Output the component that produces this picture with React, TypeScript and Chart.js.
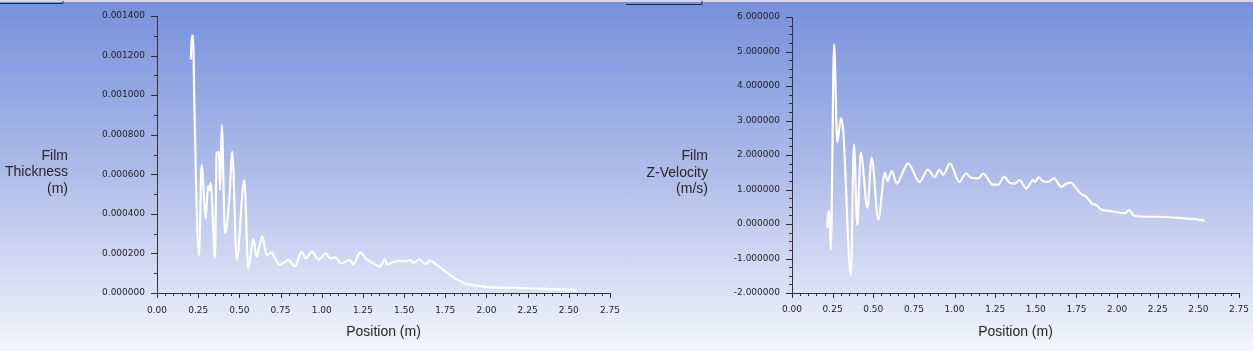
import React, { useEffect, useRef } from 'react';
import { Chart, registerables } from 'chart.js';

Chart.register(...registerables);

// ---- data ----
const thicknessPositions = [
  0.206, 0.211, 0.220, 0.226, 0.255, 0.271, 0.296, 0.31, 0.318, 0.326, 0.352, 0.362, 0.376, 0.383,
  0.393, 0.413, 0.439, 0.457, 0.484, 0.530, 0.554, 0.585, 0.605, 0.639, 0.666, 0.696, 0.716, 0.743,
  0.777, 0.797, 0.838, 0.879, 0.903, 0.939, 0.980, 1.026, 1.050, 1.081, 1.121, 1.168, 1.192, 1.233,
  1.273, 1.313, 1.354, 1.384, 1.398, 1.435, 1.516, 1.536, 1.557, 1.593, 1.627, 1.658, 1.698, 1.759,
  1.820, 1.881, 1.961, 2.018, 2.25, 2.5, 2.548,
];
const thicknessValues = [
  0.00118, 0.0013, 0.0013, 0.00099, 0.00019, 0.000647, 0.000375, 0.00054, 0.00052, 0.000555, 0.000175,
  0.000706, 0.000714, 0.00052, 0.00085, 0.000302, 0.00047, 0.000714, 0.000167, 0.000571, 0.000125,
  0.000271, 0.000184, 0.000288, 0.000192, 0.000204, 0.000175, 0.000142, 0.000158, 0.000167, 0.000136,
  0.000209, 0.000175, 0.000209, 0.00017, 0.0002, 0.000175, 0.00018, 0.00015, 0.000167, 0.000145,
  0.000204, 0.00017, 0.00015, 0.000133, 0.00017, 0.000142, 0.000158, 0.000162, 0.000167, 0.000153,
  0.00017, 0.000147, 0.000163, 0.000142, 0.000103, 0.000069, 0.000045, 0.000035, 0.00003, 0.000024,
  0.000017, 0.000016,
];

const velocityPositions = [
  0.217, 0.223, 0.229, 0.239, 0.259, 0.279, 0.301, 0.315, 0.362, 0.381, 0.402, 0.423, 0.464, 0.490,
  0.531, 0.572, 0.587, 0.614, 0.645, 0.675, 0.714, 0.784, 0.836, 0.878, 0.907, 0.930, 0.972, 1.029,
  1.070, 1.104, 1.145, 1.176, 1.237, 1.268, 1.305, 1.34, 1.37, 1.40, 1.442, 1.483, 1.495, 1.517,
  1.545, 1.575, 1.612, 1.657, 1.688, 1.714, 1.749, 1.776, 1.811, 1.852, 1.872, 1.899, 1.965, 2.047,
  2.073, 2.104, 2.231, 2.374, 2.477, 2.539,
];
const velocityValues = [
  -0.12, 0.37, 0.37, -0.75, 5.21, 2.37, 3.07, 2.71, -1.49, 2.30, -0.03, 2.07, 0.47, 1.92, 0.135,
  1.49, 1.24, 1.53, 1.17, 1.43, 1.76, 1.22, 1.58, 1.36, 1.57, 1.43, 1.75, 1.22, 1.46, 1.34, 1.32,
  1.46, 1.14, 1.14, 1.37, 1.19, 1.17, 1.27, 1.03, 1.27, 1.22, 1.35, 1.24, 1.22, 1.32, 1.08, 1.17,
  1.20, 1.03, 0.88, 0.79, 0.57, 0.55, 0.43, 0.37, 0.31, 0.40, 0.24, 0.21, 0.18, 0.14, 0.10,
];

const positionRange = [0, 2.75];
const thicknessRange = [0, 0.0014];
const velocityRange = [-2, 6];

const xAxisTitle = 'Position (m)';
const thicknessTitle = ['Film', 'Thickness', '(m)'];
const velocityTitle = ['Film', 'Z-Velocity', '(m/s)'];

type PanelProps = {
  xs: number[];
  ys: number[];
  yRange: number[];
  yStep: number;
  yMinorPerMajor: number;
  yTitle: string[];
  width: number;
  leftWidth: number;
  topPad: number;
  rightPad: number;
  xLabelPad: number;
  titleOffset: number;
  frameEnd: number;
  frameY: number;
};

function Panel(props: PanelProps) {
  const ref = useRef<HTMLCanvasElement | null>(null);

  useEffect(() => {
    const canvas = ref.current;
    if (!canvas) return;

    const background = {
      id: 'bgDecor',
      beforeDraw(chart: any) {
        const { ctx, width, height } = chart;
        ctx.save();
        const g = ctx.createLinearGradient(0, 0, 0, height);
        g.addColorStop(0, '#7690dc');
        g.addColorStop(0.5, '#b0bde9');
        g.addColorStop(1, '#f3f5fc');
        ctx.fillStyle = g;
        ctx.fillRect(0, 0, width, height);
        ctx.fillStyle = '#d3d7e4';
        ctx.fillRect(0, 0, width, 2);
        ctx.strokeStyle = '#1d2650';
        ctx.lineWidth = 1;
        ctx.beginPath();
        ctx.moveTo(0, props.frameY);
        ctx.lineTo(props.frameEnd, props.frameY);
        ctx.lineTo(props.frameEnd, 1);
        ctx.stroke();
        ctx.restore();
      },
    };

    const tickMarks = {
      id: 'tickMarks',
      afterDraw(chart: any) {
        const { ctx, chartArea } = chart;
        const xs = chart.scales.x;
        const ys = chart.scales.y;
        ctx.save();
        ctx.strokeStyle = '#2c2c2c';
        ctx.lineWidth = 1;
        ctx.beginPath();
        const xMinor = 0.05;
        const nx = Math.round((xs.max - xs.min) / xMinor);
        for (let i = 0; i <= nx; i++) {
          const px = Math.round(xs.getPixelForValue(xs.min + i * xMinor)) + 0.5;
          const len = i % 5 === 0 ? 5 : 3;
          ctx.moveTo(px, chartArea.bottom);
          ctx.lineTo(px, chartArea.bottom + len);
        }
        const yMinor = props.yStep / props.yMinorPerMajor;
        const ny = Math.round((ys.max - ys.min) / yMinor);
        for (let i = 0; i <= ny; i++) {
          const py = Math.round(ys.getPixelForValue(ys.min + i * yMinor)) + 0.5;
          const len = i % props.yMinorPerMajor === 0 ? 6 : 3;
          ctx.moveTo(chartArea.left, py);
          ctx.lineTo(chartArea.left - len, py);
        }
        ctx.stroke();

        // horizontal y-axis title
        ctx.fillStyle = '#262626';
        ctx.font = '14px "Liberation Sans", Arial, sans-serif';
        ctx.textAlign = 'right';
        ctx.textBaseline = 'middle';
        const cy = (chartArea.top + chartArea.bottom) / 2;
        props.yTitle.forEach((t, i) => {
          ctx.fillText(t, chartArea.left - props.titleOffset, cy + 1.5 + i * 16.5);
        });
        ctx.restore();
      },
    };

    const chart = new Chart(canvas, {
      type: 'line',
      data: {
        datasets: [
          {
            data: props.xs.map((x, i) => ({ x, y: props.ys[i] })),
            borderColor: '#ffffff',
            borderWidth: 2.2,
            pointRadius: 0,
            cubicInterpolationMode: 'monotone',
            fill: false,
          },
        ],
      },
      options: {
        responsive: false,
        animation: false,
        devicePixelRatio: 1,
        layout: { padding: { left: 0, right: props.rightPad, top: props.topPad, bottom: 0 } },
        plugins: { legend: { display: false }, tooltip: { enabled: false } },
        scales: {
          x: {
            type: 'linear',
            min: positionRange[0],
            max: positionRange[1],
            grid: { display: false, drawTicks: false },
            border: { display: true, color: '#333333', width: 1 },
            ticks: {
              stepSize: 0.25,
              autoSkip: false,
              maxRotation: 0,
              padding: props.xLabelPad,
              color: '#1e1e1e',
              font: { family: '"DejaVu Sans"', size: 9 },
              callback: (v: any) => Number(v).toFixed(2),
            },
            title: {
              display: true,
              text: xAxisTitle,
              color: '#262626',
              font: { family: '"Liberation Sans", Arial', size: 14 },
              padding: { top: 0, bottom: 10 },
            },
            afterFit: (s: any) => {
              s.height = 58;
              s.paddingLeft = 0;
              s.paddingRight = 0;
            },
          },
          y: {
            type: 'linear',
            min: props.yRange[0],
            max: props.yRange[1],
            grid: { display: false, drawTicks: false },
            border: { display: true, color: '#333333', width: 1 },
            ticks: {
              stepSize: props.yStep,
              autoSkip: false,
              padding: 12,
              color: '#1e1e1e',
              font: { family: '"DejaVu Sans"', size: 9 },
              callback: (v: any) => Number(v).toFixed(6),
            },
            afterFit: (s: any) => {
              s.width = props.leftWidth;
              s.paddingTop = 0;
              s.paddingBottom = 0;
            },
          },
        },
      },
      plugins: [background, tickMarks],
    } as any);

    return () => chart.destroy();
  }, []);

  return <canvas ref={ref} width={props.width} height={351} style={{ display: 'block' }} />;
}

export default function App() {
  return (
    <div style={{ position: 'absolute', left: 0, top: 0, width: 1253, height: 351, overflow: 'hidden', display: 'flex' }}>
      <Panel
        xs={thicknessPositions}
        ys={thicknessValues}
        yRange={thicknessRange}
        yStep={0.0002}
        yMinorPerMajor={2}
        yTitle={thicknessTitle}
        width={626}
        leftWidth={157}
        topPad={16}
        rightPad={16}
        xLabelPad={12}
        titleOffset={89}
        frameEnd={63}
        frameY={3.5}
      />
      <Panel
        xs={velocityPositions}
        ys={velocityValues}
        yRange={velocityRange}
        yStep={1}
        yMinorPerMajor={4}
        yTitle={velocityTitle}
        width={627}
        leftWidth={166}
        topPad={17}
        rightPad={14}
        xLabelPad={11}
        titleOffset={84}
        frameEnd={76}
        frameY={4.5}
      />
    </div>
  );
}
